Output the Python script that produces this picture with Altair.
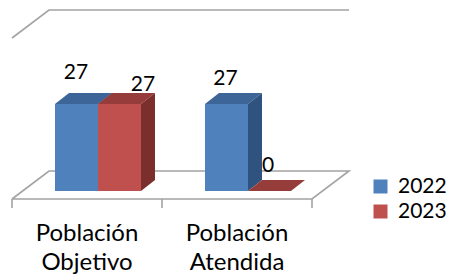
import altair as alt
import pandas as pd

# ---------------- data ----------------
categories = ["Población Objetivo", "Población Atendida"]
category_lines = [["Población", "Objetivo"], ["Población", "Atendida"]]
series = ["2022", "2023"]
values = {"2022": [27, 27], "2023": [27, 0]}

# ---------------- styles ----------------
front_colors = ["#4F81BD", "#C0504D"]
top_colors = ["#3E6597", "#963C3A"]
side_colors = ["#30527E", "#7B2F2D"]
line_color = "#A3A3A3"
FONT = "Lato"

# ---------------- geometry (pixels -> scale units) ----------------
W, H = 459, 271
SLOT_PX = 150.0          # width of one category slot
CAT0_PX = 79.0           # centre of first category slot
PX_PER_UNIT = 87.0 / 27  # vertical pixels per value unit
ZERO_PX = 183.0          # pixel row of value 0

x_dom = [-CAT0_PX / SLOT_PX, (W - CAT0_PX) / SLOT_PX]
y_dom = [-(H - ZERO_PX) / PX_PER_UNIT, ZERO_PX / PX_PER_UNIT]

def ux(px):
    return px / SLOT_PX

def uy(px):
    return px / PX_PER_UNIT

BAR_W = ux(43)
GROUP_OFF = ux(-32)
DX, DY = ux(14), uy(11)
FLOOR_FRONT, FLOOR_BACK = uy(-8), uy(20)
FLOOR_DX = ux(37)
WALL_FRONT, WALL_BACK = uy(153), uy(181)
TICK_LEN = uy(9)
label_nudge_px = {"2022": [(-0.5, 31), (-1, 25)], "2023": [(23.5, 19), (-1.5, 25)]}
CAT_LABEL_Y = uy(-50)

XS = alt.Scale(domain=x_dom, nice=False, zero=False)
YS = alt.Scale(domain=y_dom, nice=False, zero=False)

def X(f="x"):
    return alt.X(f"{f}:Q", scale=XS, axis=None)

def Y(f="y"):
    return alt.Y(f"{f}:Q", scale=YS, axis=None)

layers = []

# floor outline and back-wall top edge
ncat = len(categories)
left, right = -0.5, ncat - 0.5
floor = pd.DataFrame({
    "x": [left, right, right + FLOOR_DX, left + FLOOR_DX, left],
    "y": [FLOOR_FRONT, FLOOR_FRONT, FLOOR_BACK, FLOOR_BACK, FLOOR_FRONT],
    "o": list(range(5)),
})
wall = pd.DataFrame({
    "x": [left, left + FLOOR_DX, right + FLOOR_DX],
    "y": [WALL_FRONT, WALL_BACK, WALL_BACK],
    "o": list(range(3)),
})
for df in (floor, wall):
    layers.append(alt.Chart(df).mark_line(color=line_color, strokeWidth=1.6)
                  .encode(x=X(), y=Y(), order="o:Q"))

ticks = pd.DataFrame({"x": [left + i for i in range(ncat + 1)],
                      "y": FLOOR_FRONT, "y2": FLOOR_FRONT - TICK_LEN})
layers.append(alt.Chart(ticks).mark_rule(color=line_color, strokeWidth=1.6)
              .encode(x=X(), y=Y(), y2="y2:Q"))

# bars, one series at a time (front, top, side)
label_rows = []
for j, s in enumerate(series):
    fr, tp, sd = [], [], []
    for i, v in enumerate(values[s]):
        x0 = i + GROUP_OFF + j * BAR_W
        x1 = x0 + BAR_W
        bid = f"{s}-{i}"
        fr.append({"serie": s, "x": x0, "x2": x1, "y": 0, "y2": v})
        tp.append({"bar": bid, "y": v, "x": x0, "x2": x1})
        tp.append({"bar": bid, "y": v + DY, "x": x0 + DX, "x2": x1 + DX})
        sd.append({"bar": bid, "x": x1, "y": 0, "y2": v})
        sd.append({"bar": bid, "x": x1 + DX, "y": DY, "y2": v + DY})
        nx, ny = label_nudge_px[s][i]
        label_rows.append({"x": (x0 + x1) / 2 + ux(nx), "y": v + uy(ny), "t": str(v)})
    layers.append(alt.Chart(pd.DataFrame(fr)).mark_rect().encode(
        x=X(), x2="x2:Q", y=Y(), y2="y2:Q",
        color=alt.Color("serie:N", scale=alt.Scale(domain=series, range=front_colors),
                        legend=alt.Legend(title=None, orient="none", legendX=362, legendY=168,
                                          symbolType="square", symbolSize=196,
                                          symbolStrokeWidth=0, labelFont=FONT,
                                          labelFontSize=21, labelColor="#000000",
                                          labelOffset=7, rowPadding=3))))
    layers.append(alt.Chart(pd.DataFrame(tp)).mark_area(orient="horizontal", color=top_colors[j], opacity=1)
                  .encode(y=Y(), x=X(), x2="x2:Q", detail="bar:N"))
    layers.append(alt.Chart(pd.DataFrame(sd)).mark_area(orient="vertical", color=side_colors[j], opacity=1)
                  .encode(x=X(), y=Y(), y2="y2:Q", detail="bar:N"))

layers.append(alt.Chart(pd.DataFrame(label_rows)).mark_text(
    font=FONT, fontSize=21, color="#000000", baseline="middle", align="center")
    .encode(x=X(), y=Y(), text="t:N"))

cat_df = pd.DataFrame({"x": list(range(ncat)), "y": CAT_LABEL_Y,
                       "t": ["\n".join(l) for l in category_lines]})
layers.append(alt.Chart(cat_df).mark_text(
    font=FONT, fontSize=24, color="#000000", baseline="alphabetic", align="center",
    lineBreak="\n", lineHeight=29)
    .encode(x=X(), y=Y(), text="t:N"))

chart = alt.layer(*layers).properties(
    width=W, height=H, padding=0, autosize="none"
).configure_view(stroke=None)

chart.save("out.html", embed_options={"renderer": "svg", "actions": False})
